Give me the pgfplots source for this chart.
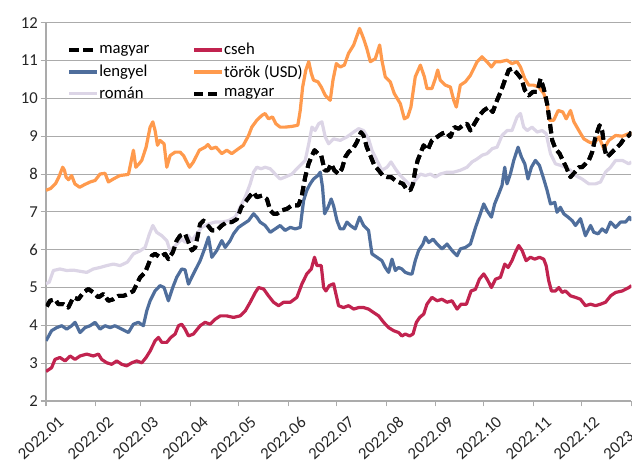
\documentclass[border=0pt]{standalone}
\usepackage{fontspec}
\setmainfont{Carlito}
\usepackage{pgfplots}
\usepackage{pgfplotstable}
\pgfplotsset{compat=1.18}
\definecolor{cOrange}{HTML}{FF9A4D}
\definecolor{cBlue}{HTML}{4F6E9C}
\definecolor{cRed}{HTML}{C1234F}
\definecolor{cLav}{HTML}{DCD5E6}
\definecolor{cGrid}{HTML}{ABABAB}

\pgfplotstableread{
d v
0 7.57
3 7.62
6 7.75
8 7.92
10.4 8.18
11.5 8.1
12.5 7.92
14 7.85
16 7.96
18 7.74
21 7.65
24 7.72
27.5 7.79
30.6 7.83
33.7 8.0
36.8 8.02
38.9 7.79
42 7.87
46 7.96
51.4 7.99
54.5 8.63
56 8.18
58 8.27
59.7 8.36
62.4 8.71
64.9 9.24
66.6 9.38
68 9.15
69.5 8.76
71 8.89
73.6 8.80
75.3 8.18
77.4 8.49
80.5 8.58
83.6 8.58
85.7 8.49
88 8.3
89.5 8.18
91.9 8.32
95.6 8.63
99.2 8.71
101 8.78
103 8.67
106 8.71
109.6 8.54
112.7 8.63
115.8 8.54
120 8.67
123 8.76
126.3 9.02
128.3 9.24
131.4 9.42
134.6 9.55
136.6 9.6
138.7 9.46
141.2 9.51
143.3 9.33
146 9.24
149.1 9.24
153.3 9.26
157 9.29
158.5 9.68
160 10.3
162 10.75
163.8 10.97
165.4 10.66
166.8 10.48
169.5 10.44
171.6 10.30
174.1 10.08
177.2 9.95
178.9 10.48
181 10.92
183.4 10.83
186 10.88
188.6 11.19
191.8 11.41
195.5 11.85
198 11.58
200 11.32
202.2 10.97
205.3 11.05
208 11.41
209.4 11.01
211.5 10.57
214.6 10.44
217.1 10.13
220.9 9.86
223.4 9.46
225.5 9.51
227.5 9.77
230.2 10.57
233.4 10.88
235.9 10.57
237.5 10.26
240.6 10.26
242.7 10.52
244.2 10.75
245.8 10.48
249 10.35
252.1 10.30
254.2 9.95
255.8 9.77
258.3 10.35
261.5 10.44
264.6 10.61
268.8 10.97
271.8 11.1
274.9 10.97
277.7 10.83
280.2 10.97
283.3 10.97
287.4 11.01
290.5 10.92
293.7 10.97
295.8 10.83
298.5 10.52
301 10.35
304 10.35
307.2 10.3
310.3 10.13
312.4 9.86
313.9 9.42
316.5 9.42
319.3 9.68
322.2 9.64
324.3 9.46
327 9.68
329.1 9.38
332.2 9.15
335.3 8.93
338.4 8.85
341.5 8.80
344.7 8.98
347.8 8.67
350.9 8.89
355.1 9.02
359.3 9.0
363.4 9.07
365 9.07
}\tTorok

\pgfplotstableread{
d v
0 5.1
2 5.14
4.6 5.45
8.7 5.49
12.9 5.45
17 5.46
21.2 5.43
25.4 5.40
29.5 5.49
33.7 5.53
37.9 5.58
42 5.62
46.2 5.58
50.7 5.67
54.5 5.89
58.7 5.97
61.8 6.06
64.5 6.42
66.6 6.64
69 6.46
72.2 6.37
75.3 6.24
77.4 5.97
79.5 6.06
81.5 6.15
84.6 6.28
86.7 6.2
88.8 6.37
90.9 6.24
94 6.42
97.1 6.59
101.3 6.68
105.4 6.73
109.6 6.73
113.8 6.77
117.9 6.86
121 7.12
124.2 7.39
127.3 7.74
129.4 8.05
131.4 8.18
134.2 8.14
136.6 8.18
139.8 8.14
142.9 8.0
146 7.87
149.1 7.92
153.3 8.0
156.4 8.14
159.5 8.27
161.6 8.36
163.8 8.80
165.8 9.24
167.8 9.15
170 9.33
172 9.38
174.1 8.98
176.2 8.80
179.3 8.93
183.4 8.89
187.6 8.98
191.8 9.11
194.9 9.20
198 9.15
201.1 8.93
203.2 8.63
206.3 8.36
209.4 8.10
212.6 8.18
215.1 8.32
217.8 8.14
220.9 7.96
224 7.83
227.1 7.70
230.2 7.83
233.4 8.0
236.5 7.96
239.6 8.0
242.7 7.92
245.8 8.0
250 8.05
254.2 8.05
258.3 8.10
262.5 8.18
265.6 8.32
268.8 8.40
272 8.5
275 8.54
278.1 8.67
281.2 8.71
284.3 9.02
287.4 9.15
290.5 9.15
293.7 9.51
295.8 9.60
297.8 9.24
300 9.15
303 9.24
306.2 9.11
309.3 9.15
311.8 9.07
314.5 8.54
317.6 8.27
320.7 8.23
323.8 8.18
327 8.10
330.1 7.96
334.2 7.87
338.4 7.74
342.6 7.74
345.7 7.79
348.8 8.05
352 8.18
355.1 8.36
359.3 8.36
363.4 8.27
365 8.32
}\tRoman

\pgfplotstableread{
d v
0 3.59
3.5 3.86
6.7 3.94
9.8 3.99
12.9 3.90
16 3.99
18.1 4.08
21.2 3.81
24.3 3.94
27.5 3.99
30.6 4.08
33.7 3.90
36.8 3.99
40 3.94
43 3.99
47.2 3.90
51.4 3.81
54.5 4.03
57.6 4.08
60.7 3.99
62.8 4.38
64.9 4.65
68 4.91
71.1 5.05
73.6 5.0
76.3 4.65
79 5.0
81.5 5.27
84.6 5.49
86.7 5.47
88.8 5.09
91.9 5.36
96.1 5.71
99.2 6.06
101.3 6.33
103.4 5.80
106.5 5.98
109.6 6.24
111.7 6.06
114.8 6.24
116.9 6.42
120 6.59
123.1 6.68
126.3 6.77
129.4 6.95
131.4 6.86
133.5 6.73
136.6 6.64
139.8 6.46
142.9 6.55
146 6.64
149.1 6.51
152.3 6.59
155.4 6.55
158.5 6.59
160.6 7.30
162.6 7.57
164.7 7.74
166.8 7.87
169.5 7.96
171 8.05
172.4 7.65
173.7 6.95
175.8 7.12
177.8 7.34
179.3 7.16
181.4 6.77
183.4 6.55
185.5 6.55
187.6 6.73
189.7 6.64
192.8 6.55
195.5 6.86
198 6.64
201.1 6.51
203.2 5.89
206.3 5.80
209.4 5.71
211.5 5.53
213.6 5.40
215.7 5.75
217.8 5.45
219.8 5.53
221.9 5.49
224 5.40
226.7 5.36
228.2 5.36
230.2 5.71
232.3 5.98
235 6.15
236.5 6.33
238.6 6.19
241.3 6.28
243.8 6.15
246.9 6.02
250 6.15
253.1 5.98
256.3 5.84
258.3 6.02
261.5 6.06
264.6 6.15
267.8 6.59
270.8 6.95
272.9 7.21
275 7.03
277.7 6.86
279.7 7.21
282.3 7.48
284.3 7.70
286 8.18
287.4 7.74
289.5 8.0
291.6 8.36
294.3 8.71
296.4 8.45
298.5 8.27
300.5 7.87
302.6 8.18
305.1 8.36
307.6 8.23
310.3 7.87
312.4 7.57
314.5 7.21
317.2 7.25
318.6 6.99
320.7 7.12
322.8 6.95
325.5 6.86
328 6.77
330.1 6.64
333.2 6.82
336.3 6.37
339.5 6.64
341.5 6.46
344.2 6.42
346.7 6.55
349.2 6.46
351.9 6.73
355.1 6.59
358.2 6.73
361.3 6.73
363.8 6.86
365 6.77
}\tLengyel

\pgfplotstableread{
d v
0 2.78
3.5 2.88
5.6 3.10
8.7 3.15
11.9 3.06
15 3.19
18.1 3.10
21.2 3.19
25.4 3.24
29.5 3.19
32.7 3.24
34.7 3.10
37.9 3.01
41 2.97
44.1 3.06
47.2 2.97
50.3 2.93
53.5 3.01
56.6 3.06
59.7 3.01
62.4 3.15
64.9 3.32
68 3.59
70.1 3.68
72.2 3.55
75.3 3.55
77.8 3.68
80.5 3.77
82.6 3.99
84.6 4.03
86.7 3.90
88.8 3.72
91.9 3.77
96.1 3.99
99.2 4.08
102.3 4.03
105.4 4.16
108.6 4.25
112.7 4.25
116.9 4.21
121 4.25
124.2 4.38
127.3 4.61
130.5 4.87
132.5 5.0
135.7 4.96
138.7 4.78
141.9 4.61
145 4.52
148.1 4.61
152.3 4.61
156.4 4.74
159.5 5.09
162.6 5.36
165.4 5.49
167.4 5.80
168.9 5.58
171.6 5.58
173.1 5.0
174.5 4.91
176.6 5.05
179.3 5.1
182.4 4.52
185.5 4.47
188.6 4.52
191.8 4.43
194.9 4.47
198 4.47
201.1 4.43
204.2 4.34
207.4 4.25
210.5 4.08
213.6 3.94
216.7 3.86
219.8 3.81
221.9 3.72
224 3.77
226.7 3.72
228.8 3.77
230.9 4.08
233 4.21
235.5 4.30
237.5 4.56
240.6 4.74
243.8 4.65
246.9 4.69
250 4.61
253.1 4.65
256.3 4.43
258.8 4.56
262.1 4.56
265 4.91
267.7 4.95
270.2 5.22
272.9 5.36
275 5.22
277.7 5.0
280.2 5.22
283.3 5.27
286 5.62
288.1 5.53
290.5 5.71
292.6 5.93
294.7 6.11
296.8 5.98
299.3 5.71
302 5.80
304.7 5.75
307.6 5.80
310.3 5.75
311.8 5.58
313.4 5.18
315.1 4.91
317.6 4.91
319.7 5.0
321.8 4.87
323.8 4.91
327 4.78
330.1 4.74
333.2 4.69
336.3 4.52
339.5 4.56
342.6 4.52
345.7 4.56
348.8 4.61
352 4.78
355.1 4.87
359.3 4.91
363.4 5.0
365 5.05
}\tCseh

\pgfplotstableread{
d v
0.5 4.5
2.5 4.65
5.6 4.69
7.7 4.56
10.8 4.56
13.9 4.47
17 4.74
20.2 4.69
23.3 4.87
26.4 4.96
29.5 4.87
32.7 4.74
35.8 4.83
38.9 4.65
42 4.69
45.1 4.78
48.3 4.78
51.4 4.83
54.5 4.91
56.6 5.09
58.7 5.27
61.8 5.40
63.9 5.62
66 5.84
68 5.89
71.1 5.80
74.3 5.89
76.3 5.75
79 5.93
81.5 6.24
83.6 6.37
86.7 6.42
88.8 6.20
90.9 5.98
93 6.06
96.1 6.68
98.2 6.77
100.9 6.64
103.4 6.51
106.5 6.51
109.6 6.64
112.7 6.73
115.8 6.73
119 6.81
121.7 7.12
124.2 7.26
127.3 7.43
129.4 7.52
131.4 7.39
134.6 7.43
137.7 7.34
139.8 7.04
141.9 6.95
144 6.95
147 7.04
150.2 7.08
153.3 7.17
157.4 7.17
159.5 7.43
161.6 7.92
163.7 8.27
165.4 8.45
167.4 8.63
169.5 8.54
171.6 8.49
173.7 8.10
175.8 8.10
177.8 8.27
179.7 8.10
182.4 8.0
184.5 8.14
186.6 8.45
188.6 8.58
191.4 8.67
193.9 8.85
196.4 9.11
198 9.02
200 8.71
202.6 8.45
204.7 8.23
207.4 8.10
210 7.96
212.6 7.92
215.1 7.92
217.8 7.83
219.8 7.79
222.6 7.74
224.6 7.61
227.1 7.57
228.8 7.74
230.2 8.10
231.7 8.36
233.4 8.54
235.4 8.76
237.9 8.63
240.6 8.89
243.8 8.98
246.9 9.07
249.6 9.11
252.1 8.98
254.6 9.24
257.3 9.20
260 9.29
262.5 9.33
264.6 9.15
267.1 9.33
270.2 9.55
272.9 9.68
276 9.77
278.5 9.64
281.2 9.95
283.9 10.22
286.4 10.52
288.5 10.75
291 10.79
293.7 10.66
296.4 10.52
298.5 10.22
301 10.08
303.5 10.17
306.2 10.17
308.3 10.52
310.3 10.26
312.4 9.86
313.9 9.42
315.6 8.89
317.6 8.67
320.2 8.54
322.2 8.36
324.3 8.18
327 7.92
329.7 8.05
332.2 8.18
334.2 8.18
336.3 8.27
338.4 8.36
340.5 8.58
342.6 8.98
345.1 9.29
346.7 9.15
348.4 8.63
349.8 8.45
352 8.54
354.1 8.63
356.1 8.71
358.2 8.80
360.3 8.93
363.4 9.02
365 9.11
}\tMagyar

\begin{document}
\begin{tikzpicture}
\begin{axis}[
  scale only axis,
  width=439.1pt, height=283.7pt,
  at={(0,0)}, anchor=south west,
  xmin=0, xmax=365, ymin=2, ymax=12,
  axis x line=bottom, axis y line=left,
  axis line style={-, draw=cGrid, line width=0.8pt},
  xtick={0,31,59,90,120,151,181,212,243,273,304,334,365},
  xticklabels={2022.01,2022.02,2022.03,2022.04,2022.05,2022.06,2022.07,2022.08,2022.09,2022.10,2022.11,2022.12,2023.01},
  ytick={2,3,...,12},
  tick align=outside,
  major tick length=4pt,
  tick style={draw=cGrid, line width=0.8pt},
  ymajorgrids,
  grid style={draw=cGrid, line width=0.8pt},
  /pgf/number format/assume math mode=true,
  yticklabel style={font=\fontsize{12.5}{14}\selectfont, text=black!85, inner sep=2pt},
  xticklabel style={font=\fontsize{12.5}{14}\selectfont, text=black!85, rotate=42, anchor=east, inner sep=0.5pt, yshift=-15pt, xshift=2.5pt},
  legend columns=2,
  legend cell align=left,
  legend style={draw=none, fill=none,
    at={(axis description cs:0.029,0.957)}, anchor=north west,
    font=\fontsize{12.5}{15}\selectfont,
    nodes={inner sep=1pt},
    row sep=4pt,
    /tikz/every odd column/.append style={column sep=-1pt},
    /tikz/every even column/.append style={column sep=31pt}},
  legend image code/.code={\draw[#1] (0pt,0pt) -- (21pt,0pt);},
  every axis plot/.append style={line join=round},
]
\addplot[black, line width=3pt, dash pattern=on 7pt off 3.5pt] table[x=d,y=v]{\tMagyar};
\addlegendentry{magyar}
\addplot[cRed, line width=2.4pt] table[x=d,y=v]{\tCseh};
\addlegendentry{cseh}
\addplot[cBlue, line width=2.4pt] table[x=d,y=v]{\tLengyel};
\addlegendentry{lengyel}
\addplot[cOrange, line width=2.4pt] table[x=d,y=v]{\tTorok};
\addlegendentry{török (USD)}
\addplot[cLav, line width=2.4pt] table[x=d,y=v]{\tRoman};
\addlegendentry{román}
\addplot[black, line width=3pt, dash pattern=on 7pt off 3.5pt] table[x=d,y=v]{\tMagyar};
\addlegendentry{magyar}
\end{axis}
\pgfresetboundingbox
\path[use as bounding box] (-34.5pt,-48pt) rectangle (439.5pt,300.75pt);
\end{tikzpicture}
\end{document}
